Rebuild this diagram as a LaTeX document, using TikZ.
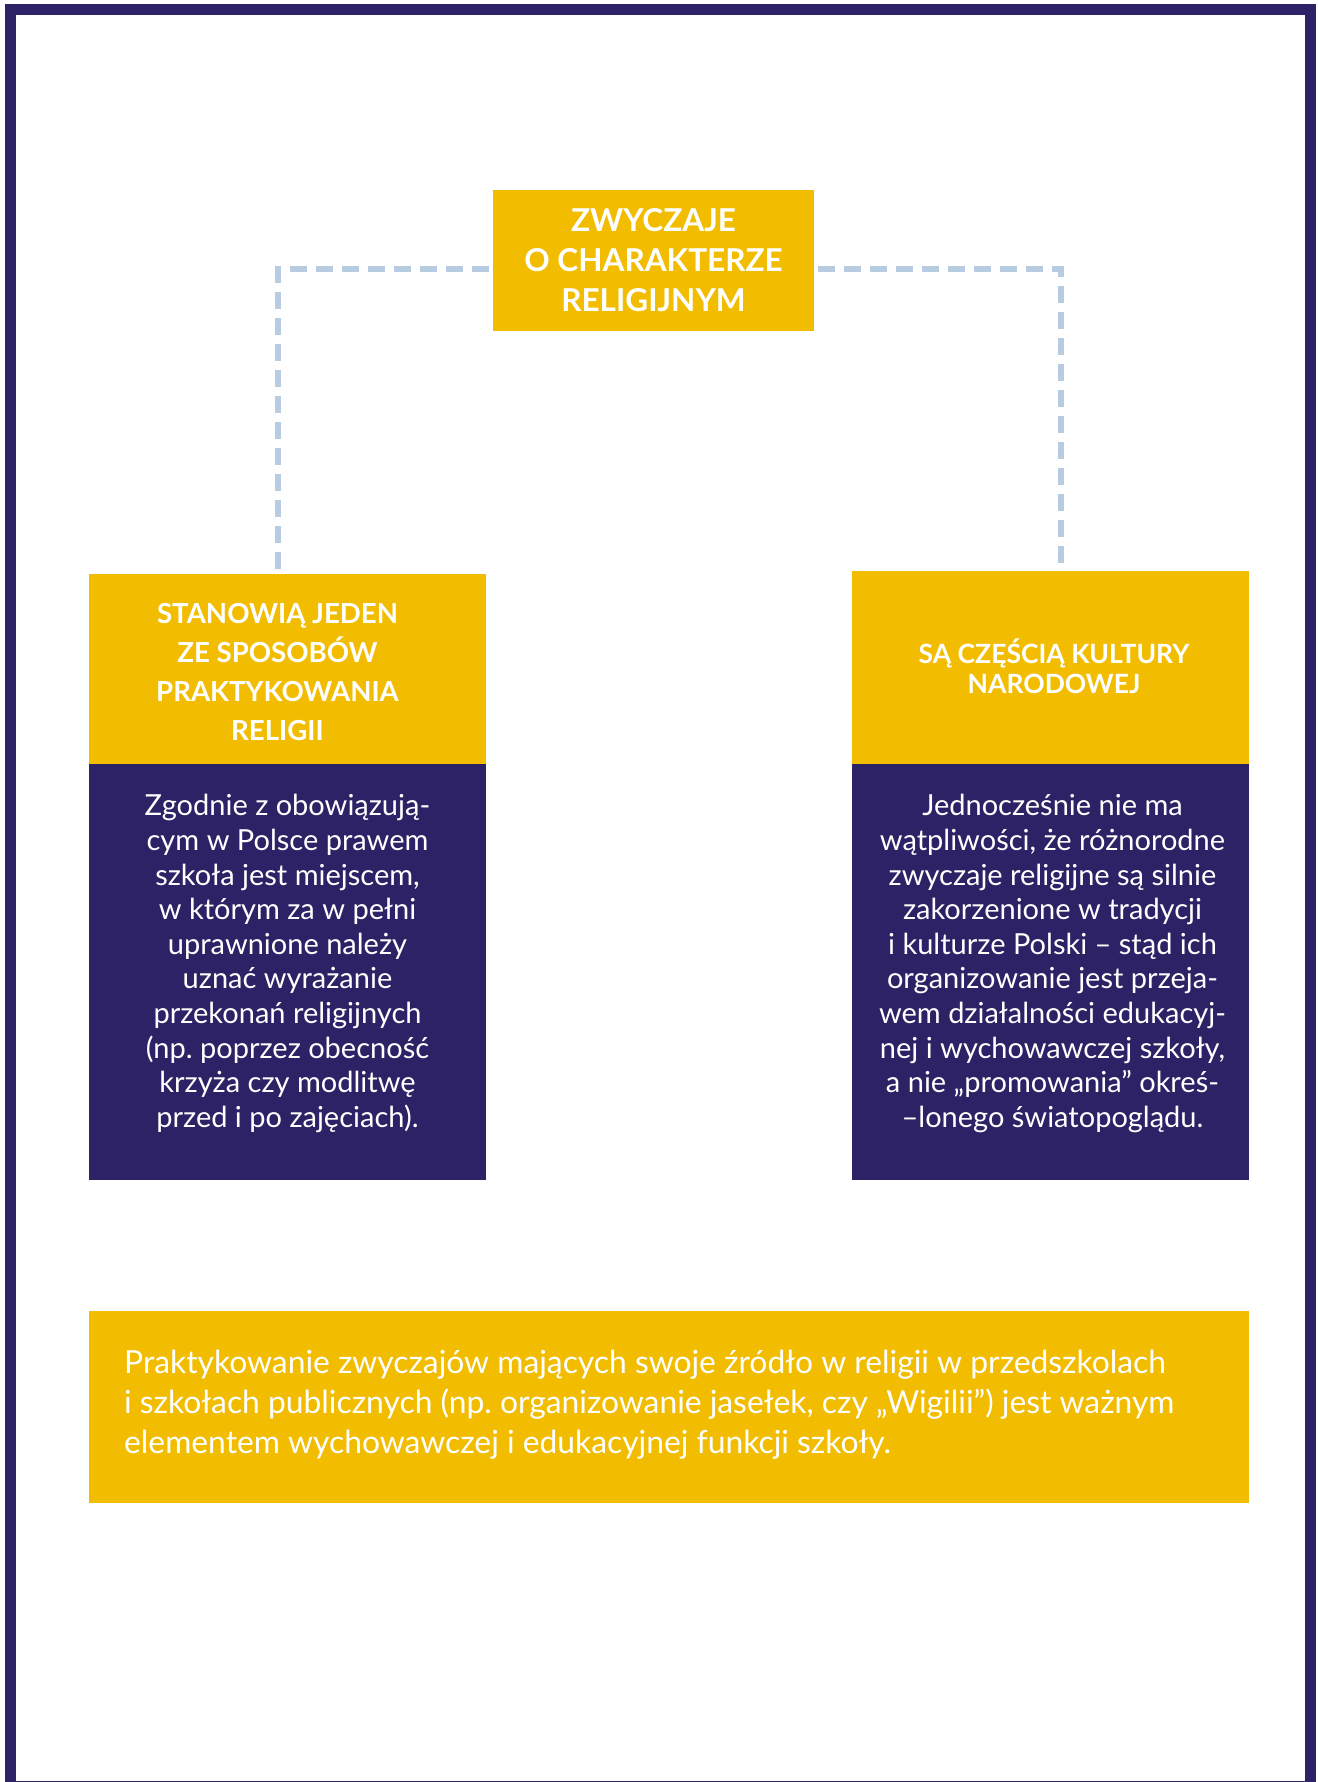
\documentclass[tikz,border=0pt]{standalone}
\usepackage{fontspec}
\setmainfont{Lato}
\usetikzlibrary{positioning}

\definecolor{navy}{HTML}{2C2265}
\definecolor{gold}{HTML}{F2BD00}
\definecolor{dashblue}{HTML}{B7CCE0}

\begin{document}
\frenchspacing
\begin{tikzpicture}[x=1pt,y=-1pt,node distance=0pt,
    head/.style={fill=gold,inner sep=0pt,minimum width=397pt},
    headtext/.style={text=white,align=center,inner sep=0pt,
      font=\bfseries\fontsize{27.6}{39}\selectfont},
    body/.style={fill=navy,inner sep=0pt,minimum width=397pt,minimum height=416pt},
    bodytext/.style={text=white,align=center,inner sep=0pt,
      font=\fontsize{29}{34.6}\selectfont},
    link/.style={dashblue,line width=6pt,dash pattern=on 17pt off 9pt}]
    \useasboundingbox (0,0) rectangle (1317,1782);
    \draw[navy,line width=11pt] (10.5,9.5) rectangle (1310.5,1786);

    \node[fill=gold,text=white,align=center,inner sep=0pt,
      minimum width=321pt,minimum height=141pt,
      font=\bfseries\fontsize{31.5}{40}\selectfont] (title) at (653.5,260)
      {ZWYCZAJE\\O CHARAKTERZE\\RELIGIJNYM};

    \node[head,minimum height=190pt] (lhead) at (287.5,669) {};
    \node[headtext] (lheadtext) at (277.5,672.5)
      {STANOWIĄ JEDEN\\ZE SPOSOBÓW\\PRAKTYKOWANIA\\RELIGII};
    \node[body] (lbody) [below=of lhead] {};
    \node[bodytext] (ltext) at (287.5,963.5)
      {Zgodnie z obowiązują-\\cym w Polsce prawem\\szkoła jest miejscem,\\w którym za w pełni\\uprawnione należy\\uznać wyrażanie\\przekonań religijnych\\(np. poprzez obecność\\krzyża czy modlitwę\\przed i po zajęciach).};

    \node[head,minimum height=193pt] (rhead) at (1050.5,667.5) {};
    \node[headtext,font=\bfseries\fontsize{26.5}{30}\selectfont] (rheadtext)
      at (1054,666.5) {SĄ CZĘŚCIĄ KULTURY\\NARODOWEJ};
    \node[body] (rbody) [below=of rhead] {};
    \node[bodytext] (rtext) at (1052.5,963.5)
      {Jednocześnie nie ma\\wątpliwości, że różnorodne\\zwyczaje religijne są silnie\\zakorzenione w tradycji\\i kulturze Polski – stąd ich\\organizowanie jest przeja-\\wem działalności edukacyj-\\nej i wychowawczej szkoły,\\a nie „promowania” okreś-\\–lonego światopoglądu.};

    \node[fill=gold,inner sep=0pt,minimum width=1160pt,minimum height=192pt]
      (note) at (669,1407) {};
    \node[text=white,align=left,inner sep=0pt,anchor=west,
      font=\fontsize{31.8}{40}\selectfont] (notetext) at (124,1405)
      {Praktykowanie zwyczajów mających swoje źródło w religii w przedszkolach\\i szkołach publicznych (np. organizowanie jasełek, czy „Wigilii”) jest ważnym\\elementem wychowawczej i edukacyjnej funkcji szkoły.};

    % dashed links
    \draw[link] ([xshift=-4pt,yshift=-9pt]title.west) -| ([xshift=-9.5pt]lhead.north);
    \draw[link] ([xshift=4pt,yshift=-9pt]title.east) -| ([xshift=10.5pt]rhead.north);
\end{tikzpicture}
\end{document}
